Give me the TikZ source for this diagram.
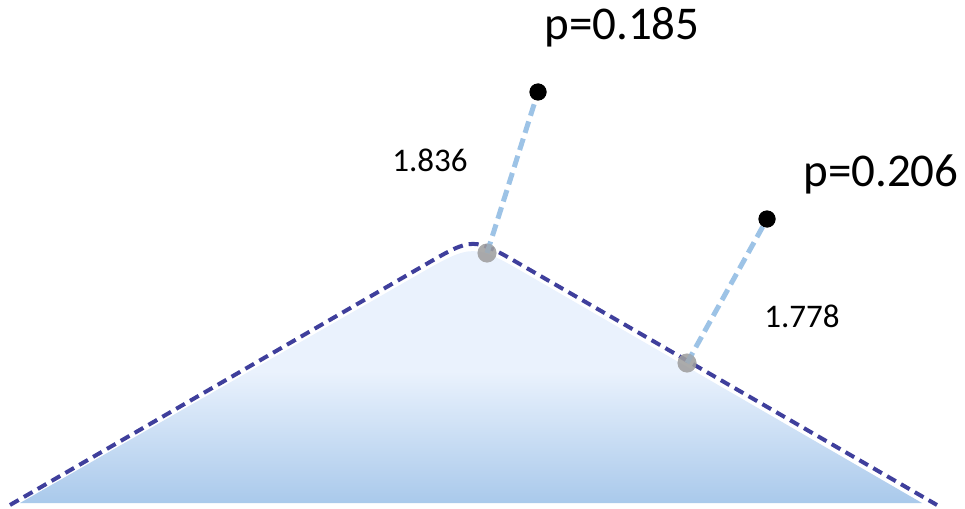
\documentclass[tikz,border=0pt]{standalone}
\usepackage{fontspec}
\setmainfont{Carlito}
\definecolor{outline}{HTML}{3F3F9C}
\definecolor{linkblue}{HTML}{9DC3E6}
\definecolor{filltop}{HTML}{EAF2FD}
\definecolor{fillbot}{HTML}{A9C9EB}
\tikzset{
  bigtext/.style={font=\fontsize{47}{50}\selectfont, anchor=base, inner sep=0pt},
  smalltext/.style={font=\fontsize{33}{36}\selectfont, anchor=base, inner sep=0pt},
  enddot/.style={circle, fill=black, minimum size=17pt, inner sep=0pt},
  footdot/.style={circle, fill=gray!75, fill opacity=0.65, minimum size=19pt, inner sep=0pt},
  link/.style={draw=linkblue, line width=5pt, dash pattern=on 12pt off 6pt},
  hill/.style={draw=outline, line width=4pt, dash pattern=on 10pt off 6pt}
}
\begin{document}
\begin{tikzpicture}[x=1pt,y=-1pt]
\useasboundingbox (0,0) rectangle (965,508);
% filled hill
\begin{scope}
  \clip (20,503) -- (416.6,275.4) .. controls (473,243) .. (529.2,275.6) -- (922,503) -- cycle;
  \fill[filltop] (0,230) rectangle (965,372);
  \shade[top color=filltop, bottom color=fillbot] (0,371) rectangle (965,504);
\end{scope}
% dashed outline
\draw[hill] (10,505) -- (425.4,264.6) .. controls (473,237) .. (520.6,264.5) -- (937,505);
% points
\node[footdot] (f1) at (487,253) {};
\node[footdot] (f2) at (687,363) {};
\node[enddot] (p1) at (538,92) {};
\node[enddot] (p2) at (767,219) {};
\draw[link] (f1.center) -- (p1.center);
\draw[link] (f2.center) -- (p2.center);
\node[footdot] at (f1) {};
\node[footdot] at (f2) {};
\node[enddot] at (p1) {};
\node[enddot] at (p2) {};
% labels
\node[bigtext] (l1) at (622,40) {p=0.185};
\node[bigtext] (l2) at (881,186) {p=0.206};
\node[smalltext] (d1) at (430,171) {1.836};
\node[smalltext] (d2) at (802,327) {1.778};
\end{tikzpicture}
\end{document}
